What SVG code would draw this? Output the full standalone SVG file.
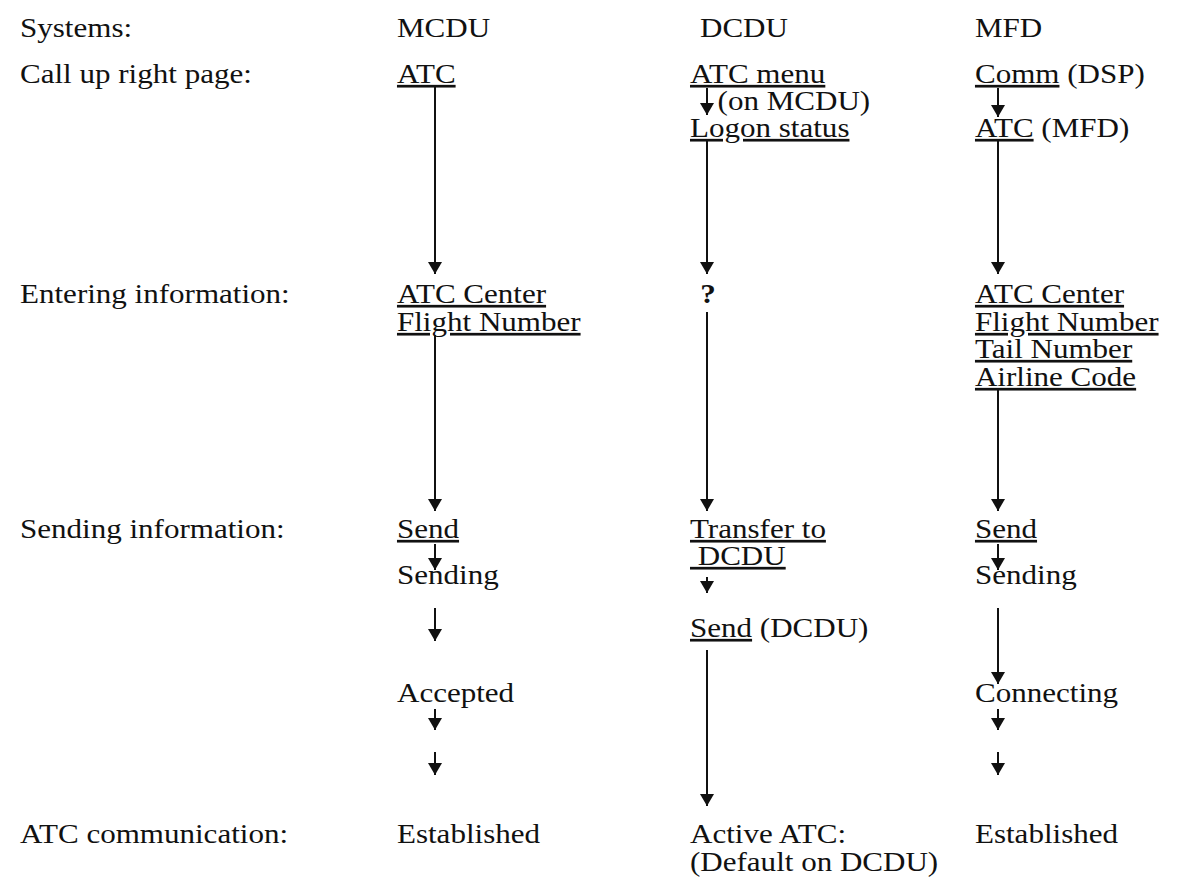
<svg xmlns="http://www.w3.org/2000/svg" width="1185" height="892" viewBox="0 0 1185 892">
<style>
text{font-family:"Liberation Serif","Times New Roman",serif;font-size:27px;fill:#111}
.u{text-decoration:underline}
.c line{stroke:#111;stroke-width:2;marker-end:url(#ah)}
</style>
<defs>
<marker id="ah" markerUnits="userSpaceOnUse" markerWidth="12" markerHeight="14" refX="12" refY="7" orient="auto"><path d="M0,0 L12,7 L0,14 z" fill="#111"/></marker>
</defs>
<rect width="1185" height="892" fill="#fff"/>
<g transform="scale(1.15 1)">
<g id="labels">
<text x="17.4" y="37">Systems:</text>
<text x="17.4" y="83">Call up right page:</text>
<text x="17.4" y="303">Entering information:</text>
<text x="17.4" y="538">Sending information:</text>
<text x="17.4" y="843">ATC communication:</text>
</g>
<g id="mcdu">
<text x="345.2" y="37">MCDU</text>
<text x="345.2" y="83" class="u">ATC</text>
<text x="345.2" y="303" class="u">ATC Center</text>
<text x="345.2" y="331" class="u">Flight Number</text>
<text x="345.2" y="538" class="u">Send</text>
<text x="345.2" y="584">Sending</text>
<text x="345.2" y="702">Accepted</text>
<text x="345.2" y="843">Established</text>
</g>
<g id="dcdu">
<text x="608.7" y="37">DCDU</text>
<text x="600" y="83" class="u">ATC menu</text>
<text x="624" y="110">(on MCDU)</text>
<text x="600" y="137" class="u">Logon status</text>
<text x="609" y="303" font-weight="bold">?</text>
<text x="600" y="538" class="u">Transfer to</text>
<text x="600" y="565" class="u">&#160;DCDU</text>
<text x="600" y="637"><tspan class="u">Send</tspan> (DCDU)</text>
<text x="600" y="843">Active ATC:</text>
<text x="600" y="871">(Default on DCDU)</text>
</g>
<g id="mfd">
<text x="847.8" y="37">MFD</text>
<text x="847.8" y="83"><tspan class="u">Comm</tspan> (DSP)</text>
<text x="847.8" y="137"><tspan class="u">ATC</tspan> (MFD)</text>
<text x="847.8" y="303" class="u">ATC Center</text>
<text x="847.8" y="331" class="u">Flight Number</text>
<text x="847.8" y="358" class="u">Tail Number</text>
<text x="847.8" y="386" class="u">Airline Code</text>
<text x="847.8" y="538" class="u">Send</text>
<text x="847.8" y="584">Sending</text>
<text x="847.8" y="702">Connecting</text>
<text x="847.8" y="843">Established</text>
</g>
</g>
<g id="connectors" class="c">
<line x1="435" y1="87" x2="435" y2="274"/>
<line x1="707" y1="88" x2="707" y2="115"/>
<line x1="707" y1="141" x2="707" y2="274"/>
<line x1="998" y1="88" x2="998" y2="117"/>
<line x1="998" y1="141" x2="998" y2="274"/>
<line x1="435" y1="335" x2="435" y2="511"/>
<line x1="707" y1="312" x2="707" y2="511"/>
<line x1="998" y1="390" x2="998" y2="511"/>
<line x1="435" y1="544" x2="435" y2="570"/>
<line x1="998" y1="544" x2="998" y2="570"/>
<line x1="707" y1="577" x2="707" y2="593"/>
<line x1="435" y1="608" x2="435" y2="641"/>
<line x1="707" y1="650" x2="707" y2="806"/>
<line x1="998" y1="608" x2="998" y2="684"/>
<line x1="435" y1="709" x2="435" y2="730"/>
<line x1="435" y1="752" x2="435" y2="775"/>
<line x1="998" y1="709" x2="998" y2="730"/>
<line x1="998" y1="752" x2="998" y2="775"/>
</g>
</svg>
